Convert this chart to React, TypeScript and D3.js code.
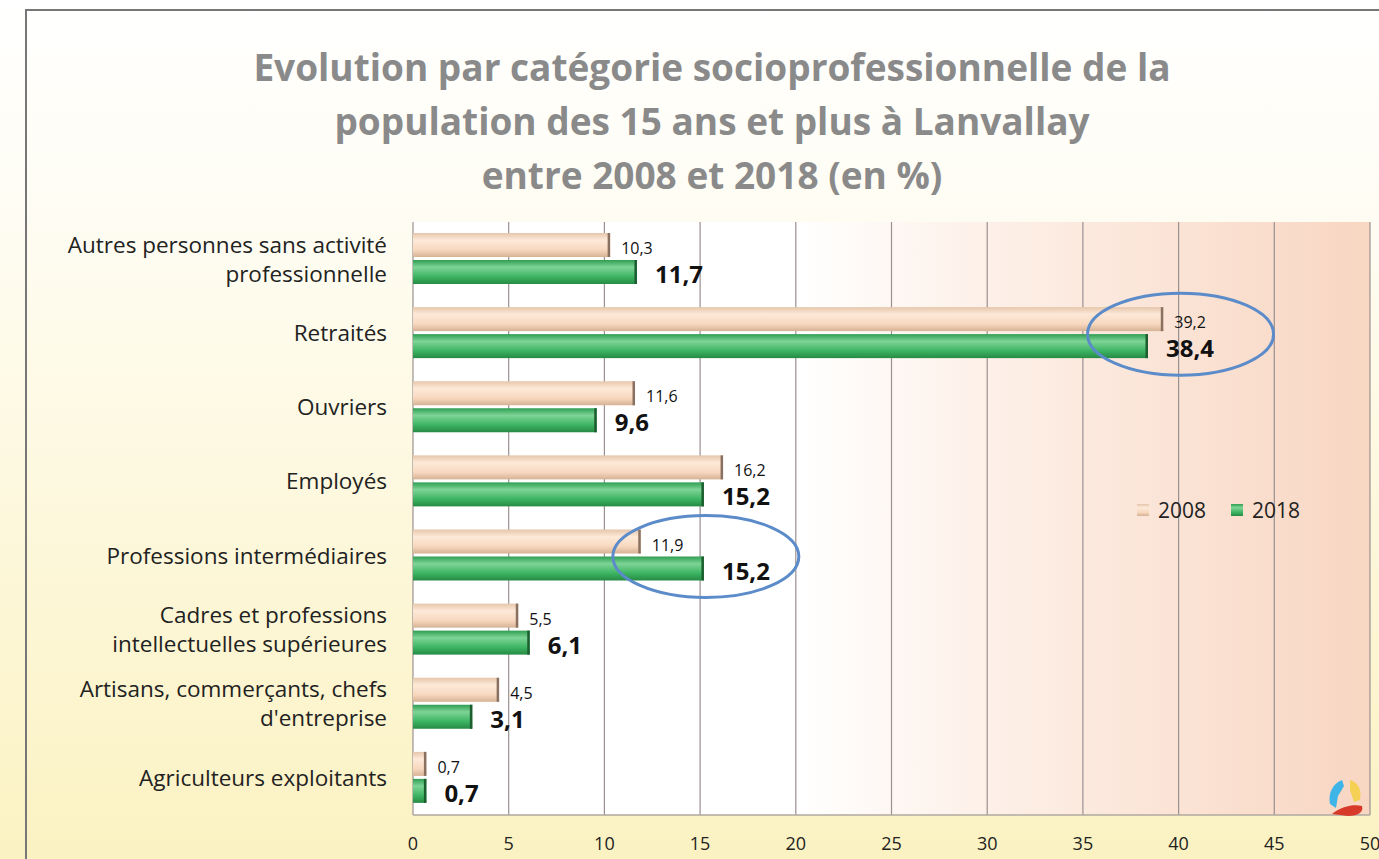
import * as d3 from 'd3'
import { useEffect, useRef } from 'react'

const categories = [
  ['Autres personnes sans activité', 'professionnelle'],
  ['Retraités'],
  ['Ouvriers'],
  ['Employés'],
  ['Professions intermédiaires'],
  ['Cadres et professions', 'intellectuelles supérieures'],
  ['Artisans, commerçants, chefs', "d'entreprise"],
  ['Agriculteurs exploitants'],
]
const values2008 = [10.3, 39.2, 11.6, 16.2, 11.9, 5.5, 4.5, 0.7]
const values2018 = [11.7, 38.4, 9.6, 15.2, 15.2, 6.1, 3.1, 0.7]
const xTicks = [0, 5, 10, 15, 20, 25, 30, 35, 40, 45, 50]
const titleLines = [
  'Evolution par catégorie socioprofessionnelle de la',
  'population des 15 ans et plus à Lanvallay',
  'entre 2008 et 2018 (en %)',
]
// circled categories (index) and the value the circle is centred on
const highlightIdx = [1, 4]
const highlightAt = [40.1, 15.3]

const W = 1379
const H = 859
const FONT = '"Open Sans", sans-serif'

export default function App() {
  const ref = useRef<SVGSVGElement>(null)

  useEffect(() => {
    const svg = d3.select(ref.current)
    svg.selectAll('*').remove()

    const defs = svg.append('defs')
    const bg = defs.append('linearGradient').attr('id', 'bg').attr('x1', 0).attr('y1', 0).attr('x2', 0).attr('y2', 1)
    bg.append('stop').attr('offset', '0').attr('stop-color', '#ffffff')
    bg.append('stop').attr('offset', '0.3').attr('stop-color', '#fefcf0')
    bg.append('stop').attr('offset', '1').attr('stop-color', '#fbf2c2')

    const plotBg = defs.append('linearGradient').attr('id', 'plotbg').attr('x1', 0).attr('y1', 0).attr('x2', 1).attr('y2', 0)
    plotBg.append('stop').attr('offset', '0').attr('stop-color', '#ffffff')
    plotBg.append('stop').attr('offset', '0.4').attr('stop-color', '#ffffff')
    plotBg.append('stop').attr('offset', '0.6').attr('stop-color', '#fdf0e8')
    plotBg.append('stop').attr('offset', '1').attr('stop-color', '#f8d6c2')

    const g08 = defs.append('linearGradient').attr('id', 'g08').attr('x1', 0).attr('y1', 0).attr('x2', 0).attr('y2', 1)
    g08.append('stop').attr('offset', '0').attr('stop-color', '#e6c6ab')
    g08.append('stop').attr('offset', '0.3').attr('stop-color', '#fde9d8')
    g08.append('stop').attr('offset', '0.7').attr('stop-color', '#f7d8bf')
    g08.append('stop').attr('offset', '1').attr('stop-color', '#d6b294')

    const g18 = defs.append('linearGradient').attr('id', 'g18').attr('x1', 0).attr('y1', 0).attr('x2', 0).attr('y2', 1)
    g18.append('stop').attr('offset', '0').attr('stop-color', '#2f9e52')
    g18.append('stop').attr('offset', '0.3').attr('stop-color', '#7ed496')
    g18.append('stop').attr('offset', '0.7').attr('stop-color', '#3cb462')
    g18.append('stop').attr('offset', '1').attr('stop-color', '#268a44')

    svg.append('rect').attr('width', W).attr('height', H).attr('fill', 'url(#bg)')
    svg.append('path').attr('d', `M26,${H} L26,10 L${W},10`).attr('fill', 'none').attr('stroke', '#777').attr('stroke-width', 2)

    // title
    svg.append('g').selectAll('text').data(titleLines).join('text')
      .attr('x', 712).attr('y', (_, i) => 81 + i * 54)
      .attr('text-anchor', 'middle')
      .attr('font-family', FONT).attr('font-weight', 'bold').attr('font-size', 37)
      .attr('fill', '#8a8a8a')
      .text(d => d)

    const x = d3.scaleLinear().domain([0, 50]).range([413, 1370])
    const y = d3.scaleBand().domain(categories.map((_, i) => String(i))).range([222, 815])
    const barH = 24

    svg.append('rect').attr('x', x(0)).attr('y', 222).attr('width', x(50) - x(0)).attr('height', 815 - 222)
      .attr('fill', 'url(#plotbg)')

    // grid
    svg.append('g').selectAll('line').data(xTicks).join('line')
      .attr('x1', d => x(d)).attr('x2', d => x(d)).attr('y1', 222).attr('y2', 815)
      .attr('stroke', '#9a9090').attr('stroke-width', 1.2)
    svg.append('line').attr('x1', x(0)).attr('x2', x(50)).attr('y1', 815).attr('y2', 815)
      .attr('stroke', '#b0a8a0').attr('stroke-width', 1.5)

    // tick labels
    svg.append('g').selectAll('text').data(xTicks).join('text')
      .attr('x', d => x(d)).attr('y', 850).attr('text-anchor', 'middle')
      .attr('font-family', FONT).attr('font-size', 18).attr('fill', '#222')
      .text(d => d)

    // category labels
    const cat = svg.append('g').selectAll('text').data(categories).join('text')
      .attr('x', 387).attr('text-anchor', 'end')
      .attr('font-family', FONT).attr('font-size', 22.5).attr('fill', '#222')
      .attr('y', (d, i) => y(String(i))! + y.bandwidth() / 2 + 8 - (d.length - 1) * 14.5)
    cat.selectAll('tspan').data(d => d).join('tspan')
      .attr('x', 387).attr('dy', (_, j) => (j === 0 ? 0 : 29)).text(d => d)

    const fmt = (v: number) => v.toFixed(1).replace('.', ',')

    const series = [
      { vals: values2008, fill: 'url(#g08)', cap: '#8a7060', off: 11, size: 16, weight: 'normal', dx: 11, base: 21 },
      { vals: values2018, fill: 'url(#g18)', cap: '#1d5e30', off: 38, size: 24, weight: 'bold', dx: 18, base: 23 },
    ]
    series.forEach(s => {
      const gS = svg.append('g')
      gS.selectAll('rect.bar').data(s.vals).join('rect').attr('class', 'bar')
        .attr('x', x(0)).attr('y', (_, i) => y(String(i))! + s.off)
        .attr('width', d => x(d) - x(0)).attr('height', barH)
        .attr('fill', s.fill)
      gS.selectAll('rect.cap').data(s.vals).join('rect').attr('class', 'cap')
        .attr('x', d => x(d) - 2.5).attr('y', (_, i) => y(String(i))! + s.off)
        .attr('width', 2.5).attr('height', barH).attr('fill', s.cap)
      gS.selectAll('text').data(s.vals).join('text')
        .attr('x', d => x(d) + s.dx)
        .attr('y', (_, i) => y(String(i))! + s.off + s.base)
        .attr('font-family', FONT).attr('font-size', s.size).attr('font-weight', s.weight)
        .attr('fill', '#111')
        .text(d => fmt(d))
    })

    // ellipses highlighting
    svg.append('g').selectAll('ellipse').data(highlightIdx).join('ellipse')
      .attr('cx', (_, k) => x(highlightAt[k]))
      .attr('cy', i => y(String(i))! + 38)
      .attr('rx', 93).attr('ry', 41)
      .attr('fill', 'none').attr('stroke', '#5b8bc9').attr('stroke-width', 3)

    // legend
    const leg = svg.append('g').attr('font-family', FONT).attr('font-size', 21).attr('fill', '#222')
    const legItems = [
      { label: '2008', fill: 'url(#g08)', x: 1137 },
      { label: '2018', fill: 'url(#g18)', x: 1231 },
    ]
    legItems.forEach(l => {
      leg.append('rect').attr('x', l.x).attr('y', 504).attr('width', 12).attr('height', 12).attr('fill', l.fill)
      leg.append('text').attr('x', l.x + 21).attr('y', 518).text(l.label)
    })

    // logo
    const logo = svg.append('g').attr('transform', 'translate(1328,778)')
    logo.append('path').attr('d', 'M14,2 C4,6 0,16 2,26 L8,30 L10,18 L16,8 Z').attr('fill', '#3fb4e6')
    logo.append('path').attr('d', 'M22,2 C30,4 34,12 32,22 L26,24 L22,12 Z').attr('fill', '#f4d055')
    logo.append('path').attr('d', 'M4,36 C14,28 26,26 34,28 C36,34 30,38 20,38 Z').attr('fill', '#d83a2a')
  }, [])

  return <svg ref={ref} width={W} height={H} style={{ display: 'block', position: 'fixed', left: 0, top: 0 }} />
}
